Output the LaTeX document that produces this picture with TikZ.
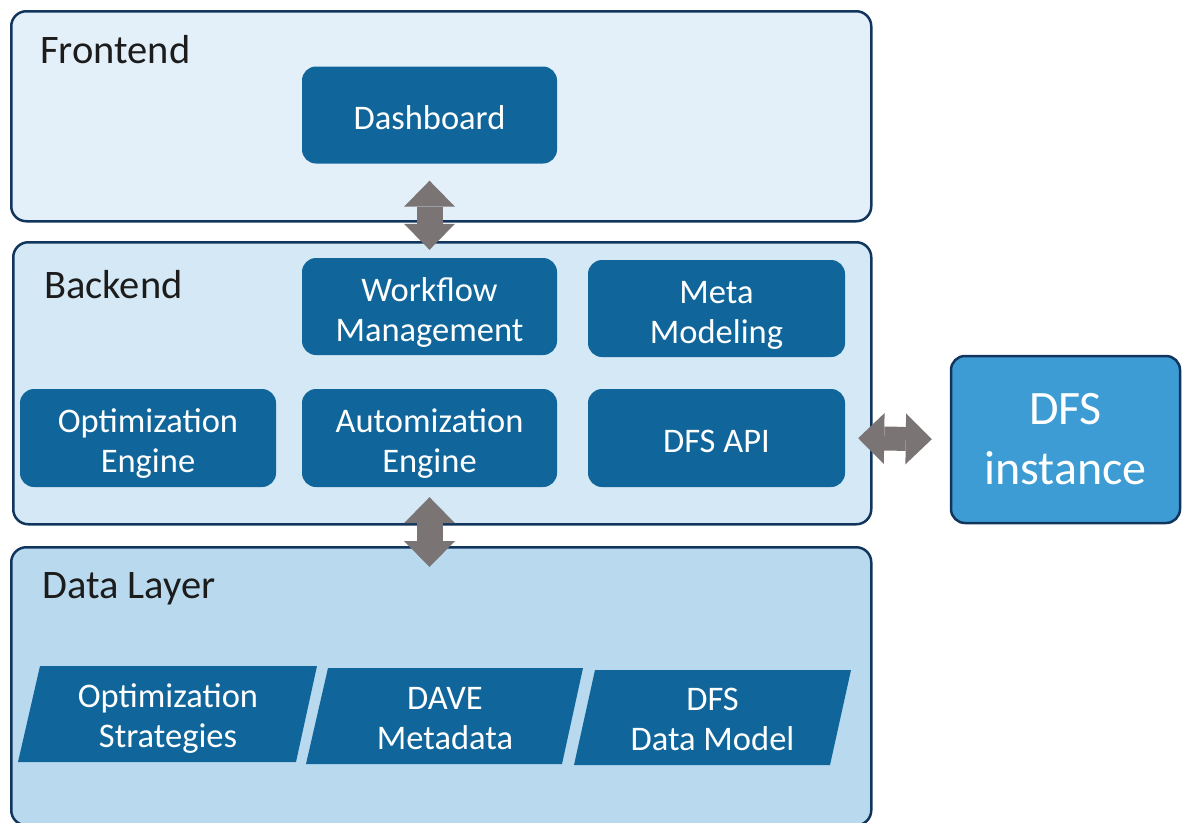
\documentclass[tikz,border=0pt]{standalone}
\usepackage{fontspec}
\setmainfont{Carlito}
\usetikzlibrary{arrows.meta,calc}
\definecolor{navy}{HTML}{12355E}
\definecolor{boxblue}{HTML}{10669A}
\definecolor{fefill}{HTML}{E4F0F9}
\definecolor{befill}{HTML}{D4E8F5}
\definecolor{dlfill}{HTML}{B9DAEE}
\definecolor{dfsfill}{HTML}{3D9CD4}
\definecolor{arrowgray}{HTML}{7A7574}
\definecolor{headtext}{HTML}{1C1C1C}
\newcommand\mlines[2][-6.5pt]{\raisebox{#1}[\height][\depth]{\begin{tabular}{@{}c@{}}#2\end{tabular}}}
\begin{document}
\begin{tikzpicture}[x=1pt,y=-1pt,
  layer/.style={draw=navy, line width=2.5pt, rounded corners=15pt, anchor=north west, inner sep=0pt},
  heading/.style={anchor=west, text=headtext, font=\fontsize{40.5}{46}\selectfont, inner sep=0pt},
  comp/.style={fill=boxblue, rounded corners=14pt, text=white,
    font=\fontsize{34.5}{40}\selectfont, minimum width=255pt, minimum height=97pt, inner sep=0pt},
  para/.style={fill=boxblue},
  paratext/.style={text=white, font=\fontsize{34.5}{40}\selectfont, inner sep=0pt},
  bigarrow/.style={draw=arrowgray, line width=26pt,
    {Triangle[width=51pt,length=26pt,line width=0pt]}-{Triangle[width=51pt,length=26pt,line width=0pt]}}
]
\clip (0,0) rectangle (1182,822);
\useasboundingbox (0,0) rectangle (1182,822);

% layers
\node[layer, fill=fefill, minimum width=860pt, minimum height=210pt] (fe) at (10,10) {};
\node[layer, fill=befill, minimum width=858pt, minimum height=282pt] (be) at (12,241) {};
\node[layer, fill=dlfill, minimum width=860pt, minimum height=278pt] (dl) at (10,546) {};

\node[heading] (feh) at (40,50) {Frontend};
\node[heading] (beh) at (44,285) {Backend};
\node[heading] (dlh) at (42,589) {Data Layer};

% components
\node[comp] (dash) at (429.5,115) {\mlines{Dashboard}};
\node[comp] (wf) at (429.5,306.5) {\mlines{Workflow\\Management}};
\node[comp, minimum width=257pt] (meta) at (716.5,308.5) {\mlines{Meta\\Modeling}};
\node[comp, minimum width=256pt, minimum height=98pt] (opt) at (148,438) {\mlines{Optimization\\Engine}};
\node[comp, minimum height=98pt] (auto) at (429.5,438) {\mlines{Automization\\Engine}};
\node[comp, minimum width=257pt, minimum height=98pt] (api) at (716.5,438) {\mlines{DFS API}};

% DFS instance
\node[fill=dfsfill, draw=navy, line width=2.5pt, rounded corners=14pt, text=white, align=center,
  font=\fontsize{48}{60}\selectfont, minimum width=229pt, minimum height=167pt, inner sep=0pt]
  (dfs) at (1065.5,439.5) {DFS\\instance};

% data layer parallelograms
\fill[para] (40,666) -- (317,666) -- (296,762) -- (18,762) -- cycle;
\fill[para] (328,668) -- (583,668) -- (562,764) -- (306,764) -- cycle;
\fill[para] (595,670) -- (851,670) -- (830,765) -- (574,765) -- cycle;
\node[paratext] (os) at (168,714) {\mlines[-5pt]{Optimization\\Strategies}};
\node[paratext] (dave) at (445,716) {\mlines[-5pt]{DAVE\\Metadata}};
\node[paratext] (dm) at (712.5,717.5) {\mlines[-5pt]{DFS\\Data Model}};

% arrows
\draw[bigarrow, shorten <=17pt, shorten >=8pt] (dash.south) -- (wf.north);
\draw[bigarrow, shorten <=10pt, shorten >=-21pt] (auto.south) -- (auto.south |- dl.north);
\draw[bigarrow, line width=24pt, shorten <=13pt, shorten >=18pt] (api.east) -- (dfs.west);
\end{tikzpicture}
\end{document}
